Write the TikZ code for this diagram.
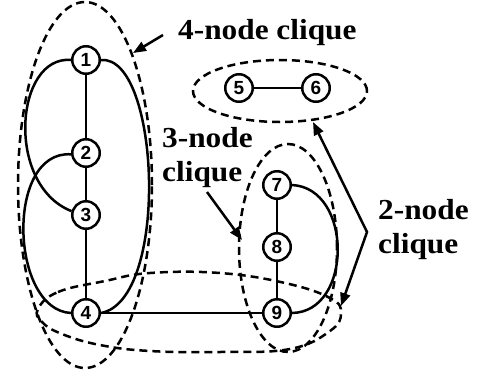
\documentclass[tikz,border=0pt]{standalone}
\usepackage{fontspec}
\setmainfont{Liberation Serif}
\newfontfamily\lblfont{Liberation Serif}[FakeStretch=1.08]
\newfontfamily\numfont{Liberation Sans}
\usetikzlibrary{arrows.meta}
\begin{document}
\begin{tikzpicture}[x=1pt,y=-1pt,
  nd/.style={circle,draw,line width=2.5pt,minimum size=27.5pt,inner sep=0pt,fill=white,
    font=\numfont\bfseries\fontsize{19}{19}\selectfont},
  edge/.style={line width=2.5pt},
  dsh/.style={line width=2.5pt,dash pattern=on 8pt off 5pt},
  lbl/.style={font=\lblfont\bfseries\fontsize{29}{34}\selectfont,align=left,inner sep=0pt},
  arr/.style={line width=2.5pt,-{Triangle[length=13pt,width=10pt]}}]
\useasboundingbox (0,0) rectangle (479,378);
% clique outlines
\draw[dsh] (85,185) ellipse [x radius=67pt, y radius=183pt];
\draw[dsh] (280,91) ellipse [x radius=87pt, y radius=31pt];
\draw[dsh] (288,248) ellipse [x radius=49pt, y radius=104pt];
\draw[dsh] plot[smooth cycle,tension=0.7] coordinates {(38,309) (58,292) (105,281) (150,273) (220,273) (285,283) (330,298) (341,313) (330,331) (290,349) (220,352) (150,351) (100,345) (62,334) (42,322)};
% nodes
\node[nd] (n1) at (86,60) {1};
\node[nd] (n2) at (86,153) {2};
\node[nd] (n3) at (86,215) {3};
\node[nd] (n4) at (86,313) {4};
\node[nd] (n5) at (239,88) {5};
\node[nd] (n6) at (316,88) {6};
\node[nd] (n7) at (277,185) {7};
\node[nd] (n8) at (277,247) {8};
\node[nd] (n9) at (277,313) {9};
% edges
\draw[edge] (n1) -- (n2);
\draw[edge] (n2) -- (n3);
\draw[edge] (n3) -- (n4);
\draw[edge] (n1.180) .. controls (15,55) and (5,185) .. (n3.165);
\draw[edge] (n2.185) .. controls (5,150) and (10,310) .. (n4.180);
\draw[edge] (n1.0) .. controls (160,55) and (170,300) .. (n4.0);
\draw[edge] (n4) -- (n9);
\draw[edge] (n5) -- (n6);
\draw[edge] (n7) -- (n8);
\draw[edge] (n8) -- (n9);
\draw[edge] (n7.0) .. controls (353,188) and (353,312) .. (n9.0);
% labels
\node[lbl,anchor=base west] (l4) at (178,39) {4-node clique};
\node[lbl,anchor=north west] (l3) at (162,127) {3-node\\clique};
\node[lbl,anchor=north west] (l2) at (378,199) {2-node\\clique};
% arrows
\coordinate (a4s) at (163,35);
\coordinate (a4e) at (133,53);
\coordinate (a3s) at (207,192);
\coordinate (a3e) at (242,240);
\coordinate (a2v) at (367,232);
\coordinate (a2t1) at (313,122);
\coordinate (a2t2) at (341,306);
\draw[arr] (a4s) -- (a4e);
\draw[arr] (a3s) -- (a3e);
\draw[line width=2.5pt,miter limit=20,{Triangle[length=13pt,width=10pt]}-{Triangle[length=13pt,width=10pt]}] (a2t1) -- (a2v) -- (a2t2);
\end{tikzpicture}
\end{document}
